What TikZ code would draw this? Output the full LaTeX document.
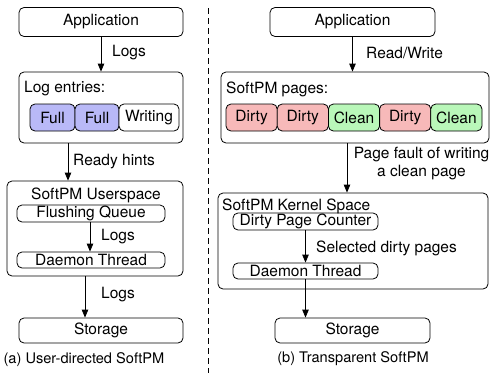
\documentclass[tikz,border=0pt]{standalone}
\usepackage{fontspec}
\setmainfont{TeX Gyre Heros}
\usetikzlibrary{arrows.meta}
\definecolor{fullc}{HTML}{B9B9F7}
\definecolor{dirtyc}{HTML}{F7B9B9}
\definecolor{cleanc}{HTML}{B9F7B9}
\begin{document}
\begin{tikzpicture}[x=1pt,y=-1pt,
  every node/.style={font=\fontsize{15.5}{18}\selectfont, inner sep=0pt},
  box/.style={draw, line width=0.8pt, rounded corners=5pt, minimum width=#1},
  cell/.style={draw, line width=0.8pt, rounded corners=5pt, minimum height=27pt, minimum width=#1},
  arr/.style={-{Triangle[length=8pt,width=6.5pt]}, line width=0.8pt},
  lbl/.style={anchor=west},
  captxt/.style={font=\fontsize{14.6}{17}\selectfont}]
\useasboundingbox (0,0) rectangle (491,373);
% ---------- left panel ----------
\node[box=164pt, minimum height=29pt] (appA) at (101,22) {Application};
\node[box=164pt, minimum height=71pt] (logbox) at (101,107.5) {};
\node[lbl] (logtxt) at (24,89) {Log entries:};
\node[cell=45pt, fill=fullc] (full1) at (52.5,117.5) {Full};
\node[cell=44pt, fill=fullc] (full2) at (97,117.5) {Full};
\node[cell=60pt, fill=white] (writing) at (149,117.5) {Writing};
\node[box=176pt, minimum height=95pt] (userbox) at (95,228.5) {};
\node (usertxt) at (96,195) {SoftPM Userspace};
\node[box=148pt, minimum height=17pt] (fq) at (91,213.5) {Flushing Queue};
\node[box=148pt, minimum height=16pt] (dtA) at (91,260) {Daemon Thread};
\node[box=164pt, minimum height=25pt] (storA) at (101,330.5) {Storage};
\node[captxt] (capA) at (84,360) {(a) User-directed SoftPM};

\draw[arr] (appA.south) -- (logbox.north);
\node[lbl] (l1) at (112,53) {Logs};
\draw[arr] ([xshift=-33pt]logbox.south) -- ([xshift=-33pt]logbox.south |- userbox.north);
\node[lbl] (l2) at (73,162) {Ready hints};
\draw[arr] ([xshift=-1pt]fq.south) -- ([xshift=-1pt]fq.south |- dtA.north);
\node[lbl] (l3) at (101,237) {Logs};
\draw[arr] ([xshift=-10pt]userbox.south) -- ([xshift=-10pt]userbox.south |- storA.north);
\node[lbl] (l4) at (101,295) {Logs};

% ---------- divider ----------
\coordinate (dtop) at (208,8);
\coordinate (dbot) at (208,373);
\draw[dashed, dash pattern=on 6pt off 4pt, line width=0.8pt] (dtop) -- (dbot);

% ---------- right panel ----------
\node[box=165pt, minimum height=29pt] (appB) at (352.5,22) {Application};
\node[box=268pt, minimum height=71pt] (pagebox) at (355,107.5) {};
\node[lbl] (pagetxt) at (226,89) {SoftPM pages:};
\node[cell=51.2pt, fill=dirtyc] (p1) at (251.6,117.5) {Dirty};
\node[cell=51.2pt, fill=dirtyc] (p2) at (302.8,117.5) {Dirty};
\node[cell=51.2pt, fill=cleanc] (p3) at (354,117.5) {Clean};
\node[cell=51.2pt, fill=dirtyc] (p4) at (405.2,117.5) {Dirty};
\node[cell=51.2pt, fill=cleanc] (p5) at (456.4,117.5) {Clean};
\node[box=270pt, minimum height=96pt] (kbox) at (353,241) {};
\node[lbl] (ktxt) at (222,206) {SoftPM Kernel Space};
\node[box=145pt, minimum height=17pt] (dpc) at (305.5,221.5) {Dirty Page Counter};
\node[box=145pt, minimum height=16pt] (dtB) at (305.5,271) {Daemon Thread};
\node[box=155pt, minimum height=25pt] (storB) at (352.5,330.5) {Storage};
\node[captxt] (capB) at (353,359) {(b) Transparent SoftPM};

\draw[arr] (appB.south) -- (appB.south |- pagebox.north);
\node[lbl] (r1) at (366,53) {Read/Write};
\draw[arr] ([xshift=-8pt]pagebox.south) -- ([xshift=-8pt]pagebox.south |- kbox.north);
\node[align=center] (r2) at (421.5,164) {Page fault of writing\\a clean page};
\draw[arr] (dpc.south) -- (dtB.north);
\node[lbl] (r3) at (316,248) {Selected dirty pages};
\draw[arr] (dtB.south) -- (dtB.south |- storB.north);
\end{tikzpicture}
\end{document}
